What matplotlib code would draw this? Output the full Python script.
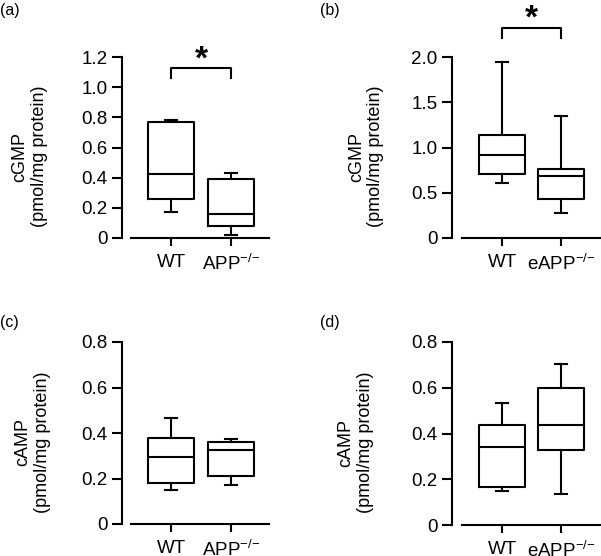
import matplotlib
matplotlib.use("Agg")
import matplotlib.pyplot as plt

plt.rcParams['font.family'] = ['Liberation Sans', 'DejaVu Sans']
plt.rcParams['mathtext.fontset'] = 'custom'
plt.rcParams['mathtext.rm'] = 'Liberation Sans'
plt.rcParams['mathtext.it'] = 'Liberation Sans'

# box stats: [WT, knockout]
ko = '$^{{\u2212}{/}{\u2212}}$'
a_labels = ['WT', 'APP' + ko]
a_whislo = [0.17, 0.02]
a_q1 = [0.26, 0.077]
a_med = [0.425, 0.16]
a_q3 = [0.77, 0.39]
a_whishi = [0.785, 0.43]

b_labels = ['WT', 'eAPP' + ko]
b_whislo = [0.61, 0.28]
b_q1 = [0.71, 0.43]
b_med = [0.915, 0.68]
b_q3 = [1.14, 0.76]
b_whishi = [1.94, 1.35]

c_labels = ['WT', 'APP' + ko]
c_whislo = [0.151, 0.17]
c_q1 = [0.179, 0.212]
c_med = [0.293, 0.327]
c_q3 = [0.378, 0.362]
c_whishi = [0.466, 0.374]

d_labels = ['WT', 'eAPP' + ko]
d_whislo = [0.15, 0.134]
d_q1 = [0.166, 0.33]
d_med = [0.343, 0.437]
d_q3 = [0.438, 0.599]
d_whishi = [0.533, 0.704]

a_yticks = [0, 0.2, 0.4, 0.6, 0.8, 1.0, 1.2]
a_yticklabels = ['0', '0.2', '0.4', '0.6', '0.8', '1.0', '1.2']
b_yticks = [0, 0.5, 1.0, 1.5, 2.0]
b_yticklabels = ['0', '0.5', '1.0', '1.5', '2.0']
cd_yticks = [0, 0.2, 0.4, 0.6, 0.8]
cd_yticklabels = ['0', '0.2', '0.4', '0.6', '0.8']

W, H = 601, 556
fig = plt.figure(figsize=(W / 100, H / 100), dpi=100)


def px_axes(left, top, right, bottom):
    return fig.add_axes([left / W, (H - bottom) / H, (right - left) / W, (bottom - top) / H])


def panel(ax, labels, wlo, q1, med, q3, whi, yticks, yticklabels, ylabel, lab_x, letter, letter_xy):
    stats = []
    for i in range(2):
        stats.append(dict(whislo=wlo[i], q1=q1[i], med=med[i], q3=q3[i], whishi=whi[i], fliers=[]))
    lw = 1.5
    ax.bxp(stats, positions=[1, 2], widths=0.78, capwidths=0.2, showfliers=False,
           boxprops=dict(color='black', linewidth=lw),
           whiskerprops=dict(color='black', linewidth=lw),
           capprops=dict(color='black', linewidth=lw),
           medianprops=dict(color='black', linewidth=lw))
    ax.set_ylim(0, yticks[-1])
    ax.set_yticks(yticks)
    ax.set_yticklabels(yticklabels)
    ax.set_xticks([1, 2])
    ax.set_xticklabels(labels)
    for s in ['top', 'right']:
        ax.spines[s].set_visible(False)
    for s in ['left', 'bottom']:
        ax.spines[s].set_linewidth(lw)
    ax.spines['left'].set_bounds(0, yticks[-1])
    ax.tick_params(axis='y', direction='out', length=7, width=lw, pad=3.5, labelsize=13.5)
    ax.tick_params(axis='x', direction='out', length=5.5, width=lw, pad=6, labelsize=13.5)
    ax.text(lab_x, 0.45, ylabel, transform=ax.transAxes, rotation=90, ha='center', va='center',
            multialignment='center', fontsize=13, linespacing=1.2)
    fig.text(letter_xy[0] / W, 1 - letter_xy[1] / H, letter, ha='left', va='center', fontsize=11.5)


ax_a = px_axes(122, 57, 269, 238)
ax_a.set_xlim(0.183, 2.633)
panel(ax_a, a_labels, a_whislo, a_q1, a_med, a_q3, a_whishi, a_yticks, a_yticklabels,
      'cGMP\n(pmol/mg protein)', -0.63, '(a)', (0, 11))
ax_a.spines['bottom'].set_bounds(0.333, 2.633)
ax_a.plot([1, 1, 2, 2], [1.061, 1.127, 1.127, 1.061], color='black', lw=1.5, clip_on=False)
ax_a.text(1.5, 1.18, '*', ha='center', va='center', fontsize=24, fontweight='bold')

ax_b = px_axes(452, 57, 600, 238)
ax_b.set_xlim(0.153, 2.66)
panel(ax_b, b_labels, b_whislo, b_q1, b_med, b_q3, b_whishi, b_yticks, b_yticklabels,
      'cGMP\n(pmol/mg protein)', -0.58, '(b)', (320, 11))
ax_b.spines['bottom'].set_bounds(0.32, 2.66)
ax_b.plot([1, 1, 2, 2], [2.21, 2.32, 2.32, 2.21], color='black', lw=1.5, clip_on=False)
ax_b.text(1.5, 2.42, '*', ha='center', va='center', fontsize=24, fontweight='bold')

ax_c = px_axes(122, 342, 269, 524)
ax_c.set_xlim(0.183, 2.633)
panel(ax_c, c_labels, c_whislo, c_q1, c_med, c_q3, c_whishi, cd_yticks, cd_yticklabels,
      'cAMP\n(pmol/mg protein)', -0.61, '(c)', (0, 323))
ax_c.spines['bottom'].set_bounds(0.333, 2.633)

ax_d = px_axes(452, 342, 600, 525)
ax_d.set_xlim(0.153, 2.66)
panel(ax_d, d_labels, d_whislo, d_q1, d_med, d_q3, d_whishi, cd_yticks, cd_yticklabels,
      'cAMP\n(pmol/mg protein)', -0.65, '(d)', (320, 323))
ax_d.spines['bottom'].set_bounds(0.32, 2.66)

fig.savefig('out.png', dpi=100)
